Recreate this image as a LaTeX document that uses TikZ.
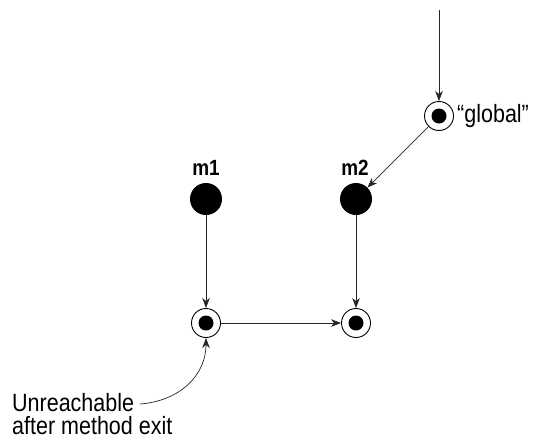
\documentclass[tikz,border=0pt]{standalone}
\usepackage{fontspec}
\setmainfont{Liberation Sans}[FakeStretch=0.86]
\usetikzlibrary{arrows.meta}
\begin{document}
\begin{tikzpicture}[x=1pt,y=-1pt,
  txt/.style={font=\fontsize{25}{23}\selectfont},
  lbl/.style={font=\fontsize{22}{22}\selectfont\bfseries},
  obj/.style={circle,fill=black,minimum size=32pt,inner sep=0pt},
  ring/.style={circle,draw=black,line width=0.9pt,minimum size=29pt,inner sep=0pt,fill=white,
    path picture={\fill[black] (path picture bounding box.center) circle (7.5pt);}},
  arr/.style={draw=black!85,line width=0.7pt,-{Stealth[length=10pt,width=7.5pt,inset=3pt]}}]
\useasboundingbox (0,0) rectangle (540,440);
\coordinate (top) at (439,10);
\node[ring] (g) at (439,116) {};
\node[txt,anchor=west,inner sep=0pt] (gl) at (457,116) {“global”};
\node[obj] (m1) at (206,199) {};
\node[obj] (m2) at (356,199) {};
\node[lbl] (l1) at (206,168) {m1};
\node[lbl] (l2) at (355,168) {m2};
\node[ring] (a) at (206,323) {};
\node[ring] (b) at (356,323) {};
\node[txt,anchor=west,align=left,inner sep=0pt] (t) at (12,414) {Unreachable\\after method exit};
\coordinate (tc) at (140,404);
\draw[arr] (top) -- (g);
\draw[arr] (g) -- (m2);
\draw[arr] (m1) -- (a);
\draw[arr] (m2) -- (b);
\draw[arr] (a) -- (b);
\draw[arr] (tc) .. controls (180,401) and (206,375) .. (a);
\end{tikzpicture}
\end{document}
